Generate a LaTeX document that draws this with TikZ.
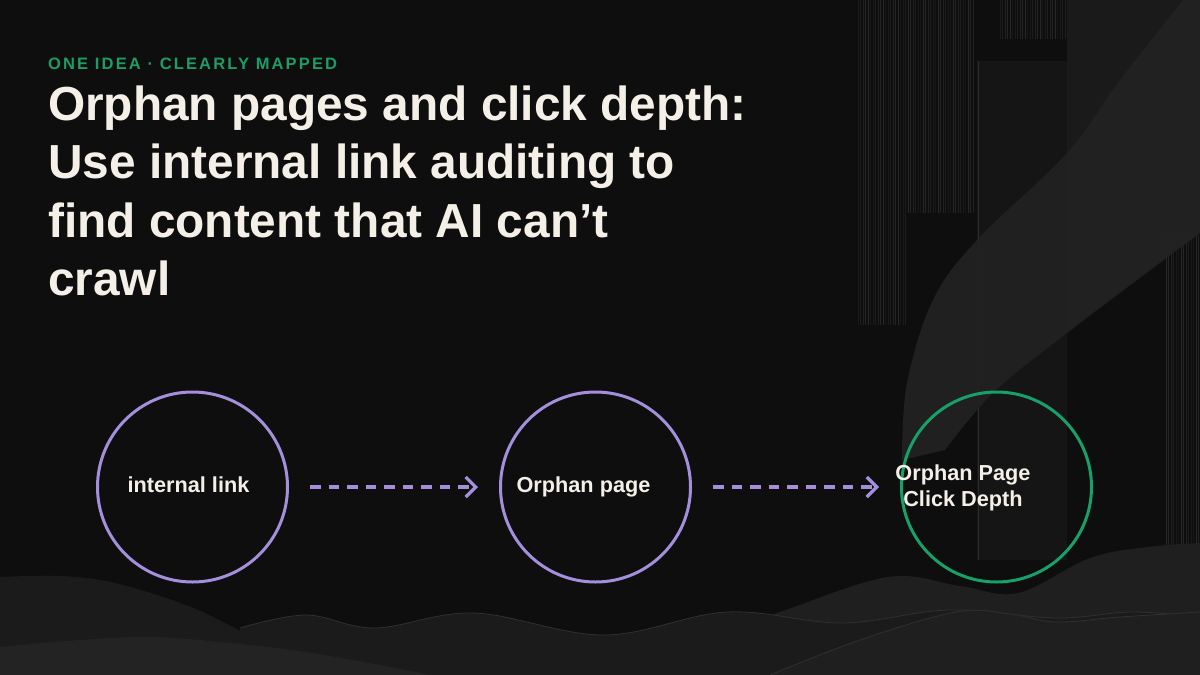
\documentclass[tikz,border=0pt]{standalone}
\usepackage{fontspec}
\setmainfont{Liberation Sans}
\newfontfamily\trackfont[LetterSpace=13]{Liberation Sans Bold}
\usepackage{tikz}
\usetikzlibrary{arrows.meta,positioning,calc}
\definecolor{pagebg}{HTML}{0E0E0E}
\definecolor{cream}{HTML}{F4F0E8}
\definecolor{kickgreen}{HTML}{1E9C64}
\definecolor{ringpurple}{HTML}{A48FDC}
\definecolor{ringgreen}{HTML}{17A068}
\definecolor{panelA}{HTML}{151515}
\definecolor{panelB}{HTML}{1A1A1A}
\definecolor{bandgrey}{HTML}{222222}
\definecolor{stripegrey}{HTML}{2C2C2C}
\definecolor{waveA}{HTML}{1B1B1B}
\definecolor{waveB}{HTML}{1F1F1F}
\definecolor{waveC}{HTML}{232323}
\definecolor{waveedge}{HTML}{303030}
\tikzset{
  ring/.style={
    circle,
    draw=ringpurple,
    line width=3pt,
    minimum size=190pt,
    inner sep=0pt
  },
  goalring/.style={
    ring,
    draw=ringgreen
  },
  ringlabel/.style={
    text=cream,
    font=\fontsize{21.7}{26}\selectfont\bfseries,
    align=center,
    inner sep=0pt
  },
  headline/.style={
    text=cream,
    font=\fontsize{47.8}{58.5}\selectfont\bfseries,
    align=left,
    inner sep=0pt
  },
  kicker/.style={
    text=kickgreen,
    font=\fontsize{16.5}{20}\selectfont\trackfont,
    inner sep=0pt
  },
  stripe/.style={draw=stripegrey, line width=0.6pt},
  waveline/.style={draw=waveedge, line width=0.8pt},
  dashedarrow/.style={
    -{Straight Barb[length=10pt,width=20pt]},
    draw=ringpurple,
    line width=3.2pt,
    dash pattern=on 10.5pt off 8pt,
    shorten <=21pt,
    shorten >=21pt
  }
}
\begin{document}
\begin{tikzpicture}[x=1pt, y=-1pt, node distance=210pt]
  % background and bounding box
  \fill[pagebg] (0,0) rectangle (1200,675);
  \useasboundingbox (0,0) rectangle (1200,675);

  % right-hand panels
  \fill[panelA] (977,61) rectangle (1067,560);
  \draw[stripegrey, line width=1pt] (978,61) -- (978,560);
  \fill[panelB] (1067,0) -- (1200,0) -- (1200,233)
    .. controls (1150,268) and (1100,305) .. (1067,333) -- cycle;
  \foreach \x [count=\i] in {858,860.5,...,906} {
    \pgfmathsetmacro{\op}{0.3+0.12*mod(\i*7,6)}
    \draw[stripe, opacity=\op] (\x,0) -- (\x,325);
  }
  \foreach \x [count=\i] in {908,910.5,...,974} {
    \pgfmathsetmacro{\op}{0.3+0.12*mod(\i*5,6)}
    \draw[stripe, opacity=\op] (\x,0) -- (\x,213);
  }
  \foreach \x [count=\i] in {1000,1002.5,...,1066} {
    \pgfmathsetmacro{\op}{0.3+0.12*mod(\i*7,6)}
    \draw[stripe, opacity=\op] (\x,0) -- (\x,39);
  }
  \foreach \x [count=\i] in {1166,1168.5,...,1199} {
    \pgfmathsetmacro{\op}{0.3+0.12*mod(\i*5,6)}
    \draw[stripe, opacity=\op] (\x,235) -- (\x,560);
  }
  \fill[bandgrey, opacity=0.9]
    plot[smooth, tension=0.6] coordinates {(1183,0) (1120,80) (1067,153) (977,240) (933,300) (907,383) (902,460)}
    -- plot[smooth, tension=0.6] coordinates {(945,450) (993,393) (1067,333) (1200,233)}
    -- (1200,0) -- cycle;

  % hills at the bottom
  \fill[waveA] (0,675) -- plot[smooth, tension=0.6] coordinates {(0,577) (60,576) (115,583) (191,607) (252,637) (300,660) (340,675)} -- cycle;
  \fill[waveB] (700,675) -- plot[smooth, tension=0.6] coordinates {(700,640) (780,612) (888,577) (960,586) (1018,593) (1090,558) (1148,547) (1200,543)} -- (1200,675) -- cycle;
  \fill[waveA] (240,675) -- plot[smooth, tension=0.6] coordinates {(240,628) (306,615) (375,628) (474,613) (604,635) (727,612) (842,623) (949,610) (1056,618) (1132,612) (1200,617)} -- (1200,675) -- cycle;
  \draw[waveline] plot[smooth, tension=0.6] coordinates {(240,628) (306,615) (375,628) (474,613) (604,635) (727,612) (842,623) (949,610) (1056,618) (1132,612) (1200,617)};
  \fill[waveC] (0,675) -- plot[smooth, tension=0.6] coordinates {(0,647) (80,640) (153,637) (230,643) (306,652) (380,665) (430,675)} -- cycle;
  \fill[waveB] (770,675) -- plot[smooth, tension=0.6] coordinates {(770,675) (860,640) (956,612) (1010,614) (1056,622) (1120,617) (1200,612)} -- (1200,675) -- cycle;
  \draw[waveline] plot[smooth, tension=0.6] coordinates {(770,675) (860,640) (956,612) (1010,614) (1056,622) (1120,617) (1200,612)};

  % heading
  \node[kicker, anchor=base west] (kick) at (48,69.5) {ONE IDEA · CLEARLY MAPPED};
  \node[headline, anchor=base west] (head) at (48,295.5)
    {Orphan pages and click depth:\\Use internal link auditing to\\find content that AI can’t\\crawl};

  % the three stages
  \node[ring] (link) at (192.5,487) {};
  \node[ring, right=of link] (orphan) {};
  \node[goalring, right=208pt of orphan] (depth) {};

  \node[ringlabel, anchor=base] (linktxt) at ([xshift=-4pt,yshift=-5.5pt]link.center) {internal link};
  \node[ringlabel, anchor=base] (orphantxt) at ([xshift=-12pt,yshift=-5pt]orphan.center) {Orphan page};
  \node[ringlabel] (depthtxt) at ([xshift=-33.5pt,yshift=-1pt]depth.center) {Orphan Page\\Click Depth};

  \draw[dashedarrow] (link) -- (orphan);
  \draw[dashedarrow] (orphan) -- (depth);
\end{tikzpicture}
\end{document}
